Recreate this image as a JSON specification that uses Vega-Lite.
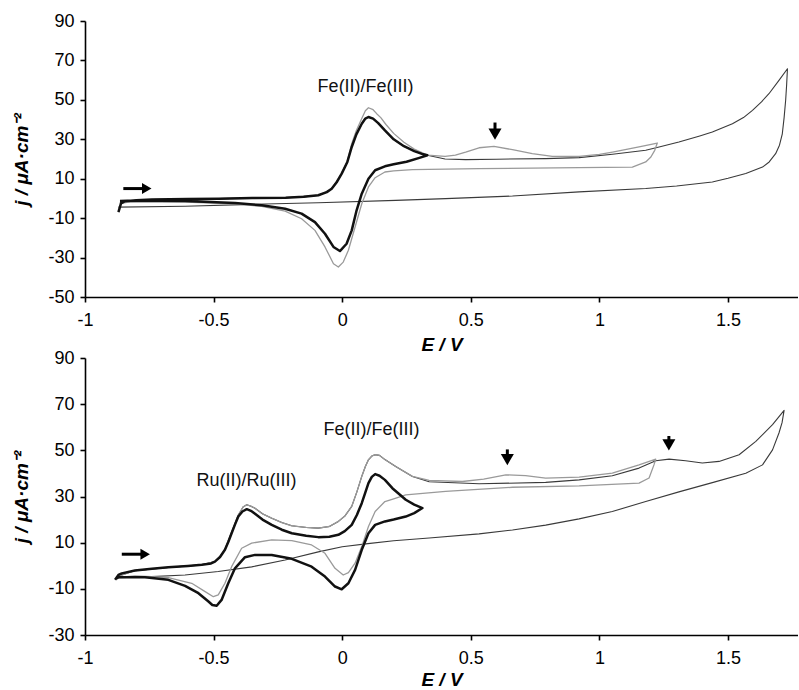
{
  "$schema": "https://vega.github.io/schema/vega-lite/v6.json",
  "padding": {"left": 12, "top": 12, "right": 0, "bottom": 0},
  "background": "white",
  "config": {
    "locale": {"number": {"decimal": ".", "thousands": ",", "grouping": [3], "currency": ["$", ""], "minus": "-"}},
    "view": {"stroke": null},
    "font": "Liberation Sans",
    "axis": {
      "grid": false,
      "domainColor": "#000", "domainWidth": 1.6,
      "tickColor": "#000", "tickWidth": 1.6, "tickSize": 5,
      "labelFont": "Liberation Sans", "labelFontSize": 18, "labelColor": "#000",
      "labelFlush": false, "labelOverlap": false,
      "titleFont": "Liberation Sans", "titleFontSize": 19, "titleFontStyle": "italic", "titleFontWeight": "bold", "titleColor": "#000"
    }
  },
  "datasets": {
    "topCurves": [
      {"c":"thin","i":0,"E":-0.870,"j":-6.9},{"c":"thin","i":1,"E":-0.860,"j":-2.5},{"c":"thin","i":2,"E":-0.845,"j":-1.4},{"c":"thin","i":3,"E":-0.80,"j":-0.9},{"c":"thin","i":4,"E":-0.74,"j":-0.6},{"c":"thin","i":5,"E":-0.60,"j":-0.3},{"c":"thin","i":6,"E":-0.48,"j":-0.1},{"c":"thin","i":7,"E":-0.35,"j":0.2},{"c":"thin","i":8,"E":-0.22,"j":0.4},{"c":"thin","i":9,"E":-0.15,"j":0.8},{"c":"thin","i":10,"E":-0.093,"j":1.6},{"c":"thin","i":11,"E":-0.06,"j":3.2},{"c":"thin","i":12,"E":-0.041,"j":4.9},{"c":"thin","i":13,"E":-0.02,"j":8.5},{"c":"thin","i":14,"E":-0.002,"j":12.6},{"c":"thin","i":15,"E":0.02,"j":18.5},{"c":"thin","i":16,"E":0.037,"j":26.1},{"c":"thin","i":17,"E":0.055,"j":32.5},{"c":"thin","i":18,"E":0.076,"j":37.9},{"c":"thin","i":19,"E":0.09,"j":40.5},{"c":"thin","i":20,"E":0.102,"j":41.3},{"c":"thin","i":21,"E":0.12,"j":40.5},{"c":"thin","i":22,"E":0.14,"j":38.2},{"c":"thin","i":23,"E":0.166,"j":34.5},{"c":"thin","i":24,"E":0.20,"j":30.0},{"c":"thin","i":25,"E":0.24,"j":26.5},{"c":"thin","i":26,"E":0.28,"j":24.0},{"c":"thin","i":27,"E":0.31,"j":22.6},{"c":"thin","i":28,"E":0.331,"j":21.9},
      {"c":"thin","i":29,"E":0.40,"j":20.0},{"c":"thin","i":30,"E":0.48,"j":19.7},{"c":"thin","i":31,"E":0.60,"j":19.9},{"c":"thin","i":32,"E":0.791,"j":20.2},{"c":"thin","i":33,"E":0.921,"j":20.7},{"c":"thin","i":34,"E":1.051,"j":22.4},{"c":"thin","i":35,"E":1.18,"j":24.4},{"c":"thin","i":36,"E":1.232,"j":26.1},{"c":"thin","i":37,"E":1.309,"j":28.6},{"c":"thin","i":38,"E":1.39,"j":31.7},{"c":"thin","i":39,"E":1.439,"j":33.7},{"c":"thin","i":40,"E":1.517,"j":37.9},{"c":"thin","i":41,"E":1.56,"j":41.0},{"c":"thin","i":42,"E":1.595,"j":44.7},{"c":"thin","i":43,"E":1.63,"j":49.0},{"c":"thin","i":44,"E":1.659,"j":53.1},{"c":"thin","i":45,"E":1.698,"j":59.9},{"c":"thin","i":46,"E":1.731,"j":65.8},
      {"c":"thin","i":47,"E":1.728,"j":58.0},{"c":"thin","i":48,"E":1.724,"j":49.8},{"c":"thin","i":49,"E":1.718,"j":41.0},{"c":"thin","i":50,"E":1.711,"j":32.8},{"c":"thin","i":51,"E":1.70,"j":27.0},{"c":"thin","i":52,"E":1.685,"j":22.7},{"c":"thin","i":53,"E":1.66,"j":18.5},{"c":"thin","i":54,"E":1.634,"j":15.9},{"c":"thin","i":55,"E":1.569,"j":12.6},{"c":"thin","i":56,"E":1.50,"j":10.2},{"c":"thin","i":57,"E":1.439,"j":8.3},{"c":"thin","i":58,"E":1.30,"j":6.3},{"c":"thin","i":59,"E":1.18,"j":5.0},{"c":"thin","i":60,"E":0.921,"j":3.3},{"c":"thin","i":61,"E":0.662,"j":1.2},{"c":"thin","i":62,"E":0.402,"j":-0.1},{"c":"thin","i":63,"E":0.208,"j":-1.0},{"c":"thin","i":64,"E":-0.093,"j":-2.2},{"c":"thin","i":65,"E":-0.352,"j":-3.0},{"c":"thin","i":66,"E":-0.611,"j":-4.0},{"c":"thin","i":67,"E":-0.870,"j":-4.4},

      {"c":"gray","i":0,"E":-0.865,"j":-2.8},{"c":"gray","i":1,"E":-0.80,"j":-1.0},{"c":"gray","i":2,"E":-0.60,"j":-0.4},{"c":"gray","i":3,"E":-0.35,"j":0.1},{"c":"gray","i":4,"E":-0.22,"j":0.4},{"c":"gray","i":5,"E":-0.093,"j":1.5},{"c":"gray","i":6,"E":-0.041,"j":4.8},{"c":"gray","i":7,"E":-0.002,"j":12.8},{"c":"gray","i":8,"E":0.02,"j":19.0},{"c":"gray","i":9,"E":0.037,"j":27.8},{"c":"gray","i":10,"E":0.055,"j":34.5},{"c":"gray","i":11,"E":0.076,"j":40.5},{"c":"gray","i":12,"E":0.09,"j":44.5},{"c":"gray","i":13,"E":0.102,"j":46.0},{"c":"gray","i":14,"E":0.12,"j":45.0},{"c":"gray","i":15,"E":0.134,"j":43.0},{"c":"gray","i":16,"E":0.15,"j":41.0},{"c":"gray","i":17,"E":0.17,"j":37.5},{"c":"gray","i":18,"E":0.20,"j":33.0},{"c":"gray","i":19,"E":0.24,"j":28.5},{"c":"gray","i":20,"E":0.28,"j":25.0},{"c":"gray","i":21,"E":0.331,"j":22.0},{"c":"gray","i":22,"E":0.40,"j":21.3},{"c":"gray","i":23,"E":0.44,"j":22.0},{"c":"gray","i":24,"E":0.48,"j":23.5},{"c":"gray","i":25,"E":0.532,"j":25.7},{"c":"gray","i":26,"E":0.59,"j":26.4},{"c":"gray","i":27,"E":0.662,"j":24.7},{"c":"gray","i":28,"E":0.739,"j":22.7},{"c":"gray","i":29,"E":0.817,"j":21.3},{"c":"gray","i":30,"E":0.921,"j":21.3},{"c":"gray","i":31,"E":1.0,"j":22.3},{"c":"gray","i":32,"E":1.051,"j":23.5},{"c":"gray","i":33,"E":1.154,"j":26.1},{"c":"gray","i":34,"E":1.225,"j":28.1},
      {"c":"gray","i":35,"E":1.215,"j":24.4},{"c":"gray","i":36,"E":1.20,"j":21.0},{"c":"gray","i":37,"E":1.18,"j":18.5},{"c":"gray","i":38,"E":1.128,"j":15.9},{"c":"gray","i":39,"E":0.921,"j":15.6},{"c":"gray","i":40,"E":0.532,"j":15.1},{"c":"gray","i":41,"E":0.273,"j":14.6},{"c":"gray","i":42,"E":0.20,"j":14.0},{"c":"gray","i":43,"E":0.166,"j":13.4},{"c":"gray","i":44,"E":0.128,"j":10.5},{"c":"gray","i":45,"E":0.102,"j":5.8},{"c":"gray","i":46,"E":0.076,"j":-2.7},{"c":"gray","i":47,"E":0.050,"j":-14.5},{"c":"gray","i":48,"E":0.024,"j":-26.3},{"c":"gray","i":49,"E":0.004,"j":-32.3},{"c":"gray","i":50,"E":-0.015,"j":-34.8},{"c":"gray","i":51,"E":-0.034,"j":-33.1},{"c":"gray","i":52,"E":-0.067,"j":-24.6},{"c":"gray","i":53,"E":-0.106,"j":-16.2},{"c":"gray","i":54,"E":-0.158,"j":-10.3},{"c":"gray","i":55,"E":-0.222,"j":-6.4},{"c":"gray","i":56,"E":-0.313,"j":-4.0},{"c":"gray","i":57,"E":-0.417,"j":-2.7},{"c":"gray","i":58,"E":-0.611,"j":-1.8},{"c":"gray","i":59,"E":-0.80,"j":-1.8},{"c":"gray","i":60,"E":-0.865,"j":-2.0},

      {"c":"black","i":0,"E":-0.870,"j":-6.9},{"c":"black","i":1,"E":-0.860,"j":-2.5},{"c":"black","i":2,"E":-0.845,"j":-1.4},{"c":"black","i":3,"E":-0.80,"j":-0.9},{"c":"black","i":4,"E":-0.74,"j":-0.6},{"c":"black","i":5,"E":-0.60,"j":-0.3},{"c":"black","i":6,"E":-0.48,"j":-0.1},{"c":"black","i":7,"E":-0.35,"j":0.2},{"c":"black","i":8,"E":-0.22,"j":0.4},{"c":"black","i":9,"E":-0.15,"j":0.8},{"c":"black","i":10,"E":-0.093,"j":1.6},{"c":"black","i":11,"E":-0.06,"j":3.2},{"c":"black","i":12,"E":-0.041,"j":4.9},{"c":"black","i":13,"E":-0.02,"j":8.5},{"c":"black","i":14,"E":-0.002,"j":12.6},{"c":"black","i":15,"E":0.02,"j":18.5},{"c":"black","i":16,"E":0.037,"j":26.1},{"c":"black","i":17,"E":0.055,"j":32.5},{"c":"black","i":18,"E":0.076,"j":37.9},{"c":"black","i":19,"E":0.09,"j":40.5},{"c":"black","i":20,"E":0.102,"j":41.3},{"c":"black","i":21,"E":0.12,"j":40.5},{"c":"black","i":22,"E":0.14,"j":38.2},{"c":"black","i":23,"E":0.166,"j":34.5},{"c":"black","i":24,"E":0.20,"j":30.0},{"c":"black","i":25,"E":0.24,"j":26.5},{"c":"black","i":26,"E":0.28,"j":24.0},{"c":"black","i":27,"E":0.31,"j":22.6},{"c":"black","i":28,"E":0.331,"j":21.9},
      {"c":"black","i":29,"E":0.30,"j":20.6},{"c":"black","i":30,"E":0.25,"j":18.6},{"c":"black","i":31,"E":0.20,"j":17.3},{"c":"black","i":32,"E":0.166,"j":16.3},{"c":"black","i":33,"E":0.128,"j":14.3},{"c":"black","i":34,"E":0.102,"j":10.0},{"c":"black","i":35,"E":0.076,"j":2.4},{"c":"black","i":36,"E":0.056,"j":-6.0},{"c":"black","i":37,"E":0.037,"j":-16.2},{"c":"black","i":38,"E":0.017,"j":-23.0},{"c":"black","i":39,"E":-0.009,"j":-26.7},{"c":"black","i":40,"E":-0.034,"j":-24.6},{"c":"black","i":41,"E":-0.067,"j":-17.9},{"c":"black","i":42,"E":-0.106,"j":-12.0},{"c":"black","i":43,"E":-0.158,"j":-7.7},{"c":"black","i":44,"E":-0.222,"j":-5.2},{"c":"black","i":45,"E":-0.313,"j":-3.5},{"c":"black","i":46,"E":-0.417,"j":-2.3},{"c":"black","i":47,"E":-0.611,"j":-1.3},{"c":"black","i":48,"E":-0.806,"j":-1.0},{"c":"black","i":49,"E":-0.864,"j":-1.3}
    ],
    "bottomCurves": [
      {"c":"thin","i":0,"E":-0.870,"j":-4.5},{"c":"thin","i":1,"E":-0.806,"j":-2.1},{"c":"thin","i":2,"E":-0.676,"j":-0.7},{"c":"thin","i":3,"E":-0.546,"j":0.4},{"c":"thin","i":4,"E":-0.495,"j":1.8},{"c":"thin","i":5,"E":-0.475,"j":4.0},{"c":"thin","i":6,"E":-0.456,"j":7.0},{"c":"thin","i":7,"E":-0.430,"j":14.5},{"c":"thin","i":8,"E":-0.404,"j":22.0},{"c":"thin","i":9,"E":-0.385,"j":25.5},{"c":"thin","i":10,"E":-0.371,"j":26.4},{"c":"thin","i":11,"E":-0.355,"j":25.8},{"c":"thin","i":12,"E":-0.339,"j":24.9},{"c":"thin","i":13,"E":-0.31,"j":22.5},{"c":"thin","i":14,"E":-0.274,"j":20.6},{"c":"thin","i":15,"E":-0.235,"j":18.7},{"c":"thin","i":16,"E":-0.196,"j":17.3},{"c":"thin","i":17,"E":-0.14,"j":16.6},{"c":"thin","i":18,"E":-0.093,"j":16.3},{"c":"thin","i":19,"E":-0.05,"j":17.0},{"c":"thin","i":20,"E":-0.015,"j":19.2},{"c":"thin","i":21,"E":0.01,"j":21.5},{"c":"thin","i":22,"E":0.037,"j":25.7},{"c":"thin","i":23,"E":0.057,"j":32.0},{"c":"thin","i":24,"E":0.076,"j":38.7},{"c":"thin","i":25,"E":0.09,"j":43.0},{"c":"thin","i":26,"E":0.102,"j":45.9},{"c":"thin","i":27,"E":0.115,"j":47.5},{"c":"thin","i":28,"E":0.128,"j":48.1},{"c":"thin","i":29,"E":0.145,"j":47.8},{"c":"thin","i":30,"E":0.166,"j":46.0},{"c":"thin","i":31,"E":0.208,"j":43.0},{"c":"thin","i":32,"E":0.273,"j":38.7},{"c":"thin","i":33,"E":0.338,"j":36.4},
      {"c":"thin","i":34,"E":0.532,"j":35.5},{"c":"thin","i":35,"E":0.791,"j":36.1},{"c":"thin","i":36,"E":0.921,"j":37.2},{"c":"thin","i":37,"E":1.05,"j":39.0},{"c":"thin","i":38,"E":1.154,"j":42.3},{"c":"thin","i":39,"E":1.219,"j":45.5},{"c":"thin","i":40,"E":1.271,"j":46.2},{"c":"thin","i":41,"E":1.335,"j":45.5},{"c":"thin","i":42,"E":1.40,"j":44.5},{"c":"thin","i":43,"E":1.465,"j":45.2},{"c":"thin","i":44,"E":1.543,"j":48.1},{"c":"thin","i":45,"E":1.608,"j":53.9},{"c":"thin","i":46,"E":1.673,"j":61.1},{"c":"thin","i":47,"E":1.718,"j":67.3},
      {"c":"thin","i":48,"E":1.71,"j":62.0},{"c":"thin","i":49,"E":1.698,"j":57.5},{"c":"thin","i":50,"E":1.673,"j":50.2},{"c":"thin","i":51,"E":1.634,"j":43.7},{"c":"thin","i":52,"E":1.569,"j":40.1},{"c":"thin","i":53,"E":1.439,"j":36.0},{"c":"thin","i":54,"E":1.309,"j":32.0},{"c":"thin","i":55,"E":1.18,"j":27.8},{"c":"thin","i":56,"E":1.05,"j":23.5},{"c":"thin","i":57,"E":0.921,"j":20.3},{"c":"thin","i":58,"E":0.791,"j":17.6},{"c":"thin","i":59,"E":0.662,"j":15.5},{"c":"thin","i":60,"E":0.532,"j":13.8},{"c":"thin","i":61,"E":0.338,"j":12.0},{"c":"thin","i":62,"E":0.20,"j":10.8},{"c":"thin","i":63,"E":0.10,"j":9.6},{"c":"thin","i":64,"E":0.0,"j":8.2},{"c":"thin","i":65,"E":-0.093,"j":6.0},{"c":"thin","i":66,"E":-0.222,"j":2.5},{"c":"thin","i":67,"E":-0.352,"j":-0.5},{"c":"thin","i":68,"E":-0.482,"j":-2.5},{"c":"thin","i":69,"E":-0.611,"j":-4.0},{"c":"thin","i":70,"E":-0.741,"j":-4.7},{"c":"thin","i":71,"E":-0.870,"j":-5.2},

      {"c":"gray","i":0,"E":-0.870,"j":-4.5},{"c":"gray","i":1,"E":-0.806,"j":-2.1},{"c":"gray","i":2,"E":-0.676,"j":-0.7},{"c":"gray","i":3,"E":-0.546,"j":0.4},{"c":"gray","i":4,"E":-0.495,"j":1.8},{"c":"gray","i":5,"E":-0.475,"j":4.0},{"c":"gray","i":6,"E":-0.456,"j":7.0},{"c":"gray","i":7,"E":-0.430,"j":14.5},{"c":"gray","i":8,"E":-0.404,"j":22.0},{"c":"gray","i":9,"E":-0.385,"j":25.5},{"c":"gray","i":10,"E":-0.371,"j":26.4},{"c":"gray","i":11,"E":-0.355,"j":25.8},{"c":"gray","i":12,"E":-0.339,"j":24.9},{"c":"gray","i":13,"E":-0.31,"j":22.5},{"c":"gray","i":14,"E":-0.274,"j":20.6},{"c":"gray","i":15,"E":-0.235,"j":18.7},{"c":"gray","i":16,"E":-0.196,"j":17.3},{"c":"gray","i":17,"E":-0.14,"j":16.6},{"c":"gray","i":18,"E":-0.093,"j":16.3},{"c":"gray","i":19,"E":-0.05,"j":17.0},{"c":"gray","i":20,"E":-0.015,"j":19.2},{"c":"gray","i":21,"E":0.01,"j":21.5},{"c":"gray","i":22,"E":0.037,"j":25.7},{"c":"gray","i":23,"E":0.057,"j":32.0},{"c":"gray","i":24,"E":0.076,"j":38.7},{"c":"gray","i":25,"E":0.09,"j":43.0},{"c":"gray","i":26,"E":0.102,"j":45.9},{"c":"gray","i":27,"E":0.115,"j":47.5},{"c":"gray","i":28,"E":0.128,"j":48.1},{"c":"gray","i":29,"E":0.145,"j":47.8},{"c":"gray","i":30,"E":0.166,"j":46.0},{"c":"gray","i":31,"E":0.208,"j":43.0},{"c":"gray","i":32,"E":0.273,"j":38.7},{"c":"gray","i":33,"E":0.338,"j":37.0},{"c":"gray","i":34,"E":0.467,"j":36.5},{"c":"gray","i":35,"E":0.55,"j":37.5},{"c":"gray","i":36,"E":0.636,"j":39.4},{"c":"gray","i":37,"E":0.713,"j":39.0},{"c":"gray","i":38,"E":0.791,"j":38.0},{"c":"gray","i":39,"E":0.921,"j":38.4},{"c":"gray","i":40,"E":1.05,"j":40.1},{"c":"gray","i":41,"E":1.154,"j":43.7},{"c":"gray","i":42,"E":1.219,"j":46.2},
      {"c":"gray","i":43,"E":1.212,"j":43.7},{"c":"gray","i":44,"E":1.193,"j":38.0},{"c":"gray","i":45,"E":1.154,"j":35.8},{"c":"gray","i":46,"E":0.921,"j":34.6},{"c":"gray","i":47,"E":0.662,"j":34.0},{"c":"gray","i":48,"E":0.402,"j":32.2},{"c":"gray","i":49,"E":0.247,"j":30.7},{"c":"gray","i":50,"E":0.20,"j":29.0},{"c":"gray","i":51,"E":0.166,"j":27.8},{"c":"gray","i":52,"E":0.128,"j":23.5},{"c":"gray","i":53,"E":0.102,"j":17.0},{"c":"gray","i":54,"E":0.076,"j":8.3},{"c":"gray","i":55,"E":0.050,"j":1.1},{"c":"gray","i":56,"E":0.024,"j":-3.0},{"c":"gray","i":57,"E":0.004,"j":-4.0},{"c":"gray","i":58,"E":-0.028,"j":-1.1},{"c":"gray","i":59,"E":-0.067,"j":5.4},{"c":"gray","i":60,"E":-0.119,"j":9.0},{"c":"gray","i":61,"E":-0.196,"j":10.9},{"c":"gray","i":62,"E":-0.274,"j":11.2},{"c":"gray","i":63,"E":-0.352,"j":9.8},{"c":"gray","i":64,"E":-0.391,"j":7.6},{"c":"gray","i":65,"E":-0.430,"j":-0.4},{"c":"gray","i":66,"E":-0.456,"j":-7.6},{"c":"gray","i":67,"E":-0.482,"j":-12.6},{"c":"gray","i":68,"E":-0.501,"j":-13.4},{"c":"gray","i":69,"E":-0.533,"j":-11.2},{"c":"gray","i":70,"E":-0.585,"j":-7.6},{"c":"gray","i":71,"E":-0.676,"j":-5.1},{"c":"gray","i":72,"E":-0.806,"j":-4.4},{"c":"gray","i":73,"E":-0.870,"j":-5.0},

      {"c":"black","i":0,"E":-0.883,"j":-6.1},{"c":"black","i":1,"E":-0.870,"j":-4.0},{"c":"black","i":2,"E":-0.857,"j":-3.3},{"c":"black","i":3,"E":-0.806,"j":-2.1},{"c":"black","i":4,"E":-0.74,"j":-1.3},{"c":"black","i":5,"E":-0.676,"j":-0.7},{"c":"black","i":6,"E":-0.60,"j":-0.1},{"c":"black","i":7,"E":-0.546,"j":0.4},{"c":"black","i":8,"E":-0.51,"j":1.0},{"c":"black","i":9,"E":-0.495,"j":1.8},{"c":"black","i":10,"E":-0.475,"j":3.8},{"c":"black","i":11,"E":-0.456,"j":6.9},{"c":"black","i":12,"E":-0.443,"j":10.3},{"c":"black","i":13,"E":-0.430,"j":14.1},{"c":"black","i":14,"E":-0.417,"j":17.8},{"c":"black","i":15,"E":-0.404,"j":21.3},{"c":"black","i":16,"E":-0.388,"j":23.5},{"c":"black","i":17,"E":-0.371,"j":24.5},{"c":"black","i":18,"E":-0.355,"j":23.8},{"c":"black","i":19,"E":-0.339,"j":22.5},{"c":"black","i":20,"E":-0.31,"j":20.0},{"c":"black","i":21,"E":-0.274,"j":17.7},{"c":"black","i":22,"E":-0.235,"j":15.6},{"c":"black","i":23,"E":-0.196,"j":14.1},{"c":"black","i":24,"E":-0.14,"j":13.0},{"c":"black","i":25,"E":-0.093,"j":12.4},{"c":"black","i":26,"E":-0.05,"j":12.6},{"c":"black","i":27,"E":-0.015,"j":13.4},{"c":"black","i":28,"E":0.01,"j":15.0},{"c":"black","i":29,"E":0.037,"j":17.7},{"c":"black","i":30,"E":0.057,"j":22.0},{"c":"black","i":31,"E":0.076,"j":27.1},{"c":"black","i":32,"E":0.09,"j":31.8},{"c":"black","i":33,"E":0.102,"j":35.8},{"c":"black","i":34,"E":0.115,"j":38.5},{"c":"black","i":35,"E":0.128,"j":39.7},{"c":"black","i":36,"E":0.145,"j":39.0},{"c":"black","i":37,"E":0.166,"j":37.2},{"c":"black","i":38,"E":0.195,"j":33.6},{"c":"black","i":39,"E":0.247,"j":28.6},{"c":"black","i":40,"E":0.28,"j":26.5},{"c":"black","i":41,"E":0.312,"j":25.0},
      {"c":"black","i":42,"E":0.28,"j":22.8},{"c":"black","i":43,"E":0.247,"j":21.3},{"c":"black","i":44,"E":0.20,"j":20.0},{"c":"black","i":45,"E":0.166,"j":19.2},{"c":"black","i":46,"E":0.128,"j":17.7},{"c":"black","i":47,"E":0.102,"j":14.1},{"c":"black","i":48,"E":0.076,"j":6.9},{"c":"black","i":49,"E":0.050,"j":-1.8},{"c":"black","i":50,"E":0.024,"j":-7.6},{"c":"black","i":51,"E":-0.002,"j":-10.2},{"c":"black","i":52,"E":-0.028,"j":-9.0},{"c":"black","i":53,"E":-0.067,"j":-4.7},{"c":"black","i":54,"E":-0.119,"j":-0.4},{"c":"black","i":55,"E":-0.196,"j":3.0},{"c":"black","i":56,"E":-0.274,"j":4.7},{"c":"black","i":57,"E":-0.339,"j":4.7},{"c":"black","i":58,"E":-0.378,"j":3.7},{"c":"black","i":59,"E":-0.417,"j":-1.1},{"c":"black","i":60,"E":-0.443,"j":-7.6},{"c":"black","i":61,"E":-0.469,"j":-14.8},{"c":"black","i":62,"E":-0.488,"j":-17.3},{"c":"black","i":63,"E":-0.505,"j":-17.0},{"c":"black","i":64,"E":-0.520,"j":-15.5},{"c":"black","i":65,"E":-0.559,"j":-11.9},{"c":"black","i":66,"E":-0.611,"j":-8.7},{"c":"black","i":67,"E":-0.676,"j":-6.1},{"c":"black","i":68,"E":-0.767,"j":-5.0},{"c":"black","i":69,"E":-0.870,"j":-5.0},{"c":"black","i":70,"E":-0.883,"j":-5.8}
    ],
    "topArrows": [
      {"sE": -0.851, "sj": 5.0, "E": -0.760, "j": 5.0, "dir": "right"},
      {"sE": 0.594, "sj": 38.5, "E": 0.594, "j": 32.6, "dir": "down"}
    ],
    "bottomArrows": [
      {"sE": -0.857, "sj": 5.0, "E": -0.766, "j": 5.0, "dir": "right"},
      {"sE": 0.642, "sj": 50.4, "E": 0.642, "j": 46.0, "dir": "down"},
      {"sE": 1.270, "sj": 56.2, "E": 1.270, "j": 52.4, "dir": "down"}
    ],
    "topLabels": [
      {"E": 0.091, "j": 56.6, "t": "Fe(II)/Fe(III)"}
    ],
    "bottomLabels": [
      {"E": 0.114, "j": 58.7, "t": "Fe(II)/Fe(III)"},
      {"E": -0.372, "j": 36.5, "t": "Ru(II)/Ru(III)"}
    ]
  },
  "bounds": "flush",
  "spacing": 61,
  "vconcat": [
    {
      "width": 713,
      "height": 276,
      "encoding": {
        "x": {"field": "E", "type": "quantitative", "title": "E / V",
              "scale": {"domain": [-1, 1.772], "nice": false, "zero": false},
              "axis": {"values": [-1, -0.5, 0, 0.5, 1, 1.5], "format": "~g", "labelPadding": 9, "titlePadding": 6}},
        "y": {"field": "j", "type": "quantitative", "title": "j / μA·cm⁻²",
              "scale": {"domain": [-50, 90], "nice": false, "zero": false},
              "axis": {"values": [-50, -30, -10, 10, 30, 50, 70, 90], "format": "d", "labelPadding": 6, "titlePadding": 16}}
      },
      "layer": [
        {"data": {"name": "topCurves"}, "transform": [{"filter": "datum.c === 'thin'"}],
         "mark": {"type": "line", "color": "#3a3a3a", "strokeWidth": 1.1, "strokeJoin": "round"},
         "encoding": {"order": {"field": "i", "type": "quantitative"}}},
        {"data": {"name": "topCurves"}, "transform": [{"filter": "datum.c === 'gray'"}],
         "mark": {"type": "line", "color": "#9a9a9a", "strokeWidth": 1.3, "strokeJoin": "round"},
         "encoding": {"order": {"field": "i", "type": "quantitative"}}},
        {"data": {"name": "topCurves"}, "transform": [{"filter": "datum.c === 'black'"}],
         "mark": {"type": "line", "color": "#111111", "strokeWidth": 2.5, "strokeJoin": "round"},
         "encoding": {"order": {"field": "i", "type": "quantitative"}}},
        {"data": {"name": "topArrows"},
         "mark": {"type": "rule", "color": "#000", "strokeWidth": 3},
         "encoding": {"x": {"field": "sE", "type": "quantitative", "title": "E / V"}, "x2": {"field": "E"},
                      "y": {"field": "sj", "type": "quantitative", "title": "j / μA·cm⁻²"}, "y2": {"field": "j"}}},
        {"data": {"name": "topArrows"},
         "mark": {"type": "point", "filled": true, "color": "#000", "opacity": 1},
         "encoding": {"shape": {"field": "dir", "type": "nominal", "scale": {"domain": ["right", "down"], "range": ["triangle-right", "triangle-down"]}, "legend": null},
                      "size": {"field": "dir", "type": "nominal", "scale": {"domain": ["right", "down"], "range": [120, 170]}, "legend": null}}},
        {"data": {"name": "topLabels"},
         "mark": {"type": "text", "font": "Liberation Sans", "fontSize": 18, "color": "#111", "align": "center", "baseline": "middle"},
         "encoding": {"text": {"field": "t"}}}
      ]
    },
    {
      "width": 713,
      "height": 277,
      "encoding": {
        "x": {"field": "E", "type": "quantitative", "title": "E / V",
              "scale": {"domain": [-1, 1.772], "nice": false, "zero": false},
              "axis": {"values": [-1, -0.5, 0, 0.5, 1, 1.5], "format": "~g", "labelPadding": 9, "titlePadding": 3}},
        "y": {"field": "j", "type": "quantitative", "title": "j / μA·cm⁻²",
              "scale": {"domain": [-30, 90], "nice": false, "zero": false},
              "axis": {"values": [-30, -10, 10, 30, 50, 70, 90], "format": "d", "labelPadding": 6, "titlePadding": 16}}
      },
      "layer": [
        {"data": {"name": "bottomCurves"}, "transform": [{"filter": "datum.c === 'thin'"}],
         "mark": {"type": "line", "color": "#3a3a3a", "strokeWidth": 1.1, "strokeJoin": "round"},
         "encoding": {"order": {"field": "i", "type": "quantitative"}}},
        {"data": {"name": "bottomCurves"}, "transform": [{"filter": "datum.c === 'gray'"}],
         "mark": {"type": "line", "color": "#9a9a9a", "strokeWidth": 1.3, "strokeJoin": "round"},
         "encoding": {"order": {"field": "i", "type": "quantitative"}}},
        {"data": {"name": "bottomCurves"}, "transform": [{"filter": "datum.c === 'black'"}],
         "mark": {"type": "line", "color": "#111111", "strokeWidth": 2.5, "strokeJoin": "round"},
         "encoding": {"order": {"field": "i", "type": "quantitative"}}},
        {"data": {"name": "bottomArrows"},
         "mark": {"type": "rule", "color": "#000", "strokeWidth": 3},
         "encoding": {"x": {"field": "sE", "type": "quantitative", "title": "E / V"}, "x2": {"field": "E"},
                      "y": {"field": "sj", "type": "quantitative", "title": "j / μA·cm⁻²"}, "y2": {"field": "j"}}},
        {"data": {"name": "bottomArrows"},
         "mark": {"type": "point", "filled": true, "color": "#000", "opacity": 1},
         "encoding": {"shape": {"field": "dir", "type": "nominal", "scale": {"domain": ["right", "down"], "range": ["triangle-right", "triangle-down"]}, "legend": null},
                      "size": {"field": "dir", "type": "nominal", "scale": {"domain": ["right", "down"], "range": [120, 170]}, "legend": null}}},
        {"data": {"name": "bottomLabels"},
         "mark": {"type": "text", "font": "Liberation Sans", "fontSize": 18, "color": "#111", "align": "center", "baseline": "middle"},
         "encoding": {"text": {"field": "t"}}}
      ]
    }
  ]
}
